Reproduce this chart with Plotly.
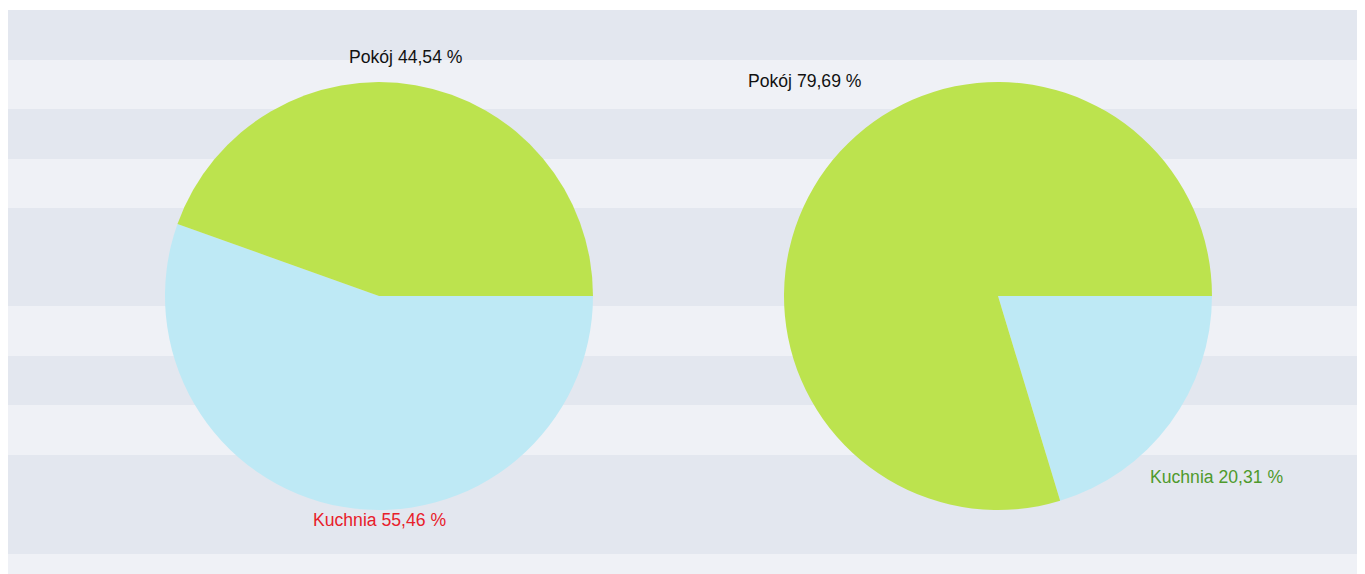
import plotly.graph_objects as go

# ---- data ----
categories = ["Pokój", "Kuchnia"]
left_values = [44.54, 55.46]
right_values = [79.69, 20.31]

# ---- styles ----
slice_colors = ["#bce34e", "#bee9f5"]
label_colors_left = ["#111111", "#e8202a"]
label_colors_right = ["#111111", "#4f9a2c"]
W, H = 1365, 574
OFF = 8  # page body margin offset

stripe_edges = [10, 60, 109, 159, 208, 306, 356, 405, 455, 554, 590]
stripe_cols = ["#e3e7ef", "#eff1f6"]


def px_x(x):
    return (x - OFF) / W


def px_y(y):
    return 1 - (y - OFF) / H


fig = go.Figure()


def pie(values, cx, cy, r):
    # Kuchnia placed first so that Pokój runs counterclockwise from 3 o'clock
    return go.Pie(
        labels=categories[::-1], values=values[::-1], sort=False,
        direction="counterclockwise", rotation=90,
        marker=dict(colors=slice_colors[::-1], line=dict(width=0)),
        textinfo="none", hoverinfo="label+value",
        domain=dict(x=[px_x(cx - r), px_x(cx + r)], y=[px_y(cy + r), px_y(cy - r)]),
        showlegend=False,
    )


fig.add_trace(pie(left_values, 379, 296, 214))
fig.add_trace(pie(right_values, 998, 296, 214))

shapes = []
for i in range(len(stripe_edges) - 1):
    shapes.append(dict(
        type="rect", xref="paper", yref="paper",
        x0=px_x(8), x1=1.01, y0=px_y(stripe_edges[i + 1]), y1=px_y(stripe_edges[i]),
        fillcolor=stripe_cols[i % 2], line=dict(width=0), layer="below",
    ))


def fmt(label, v):
    return f"{label} {v:.2f}".replace(".", ",") + " %"


label_pos_left = [(406, 57), (380, 520)]
label_pos_right = [(805, 81), (1216, 477)]
annotations = []
for vals, pos, cols in [(left_values, label_pos_left, label_colors_left),
                        (right_values, label_pos_right, label_colors_right)]:
    for lab, v, (px, py), c in zip(categories, vals, pos, cols):
        annotations.append(dict(
            x=px_x(px), y=px_y(py), xref="paper", yref="paper",
            text=fmt(lab, v), showarrow=False,
            font=dict(family="Liberation Sans, Arial, sans-serif", size=17.6, color=c),
            xanchor="center", yanchor="middle",
        ))

fig.update_layout(
    width=W, height=H, margin=dict(l=0, r=0, t=0, b=0),
    paper_bgcolor="white", plot_bgcolor="white",
    shapes=shapes, annotations=annotations,
)

fig.write_html("out.html")
